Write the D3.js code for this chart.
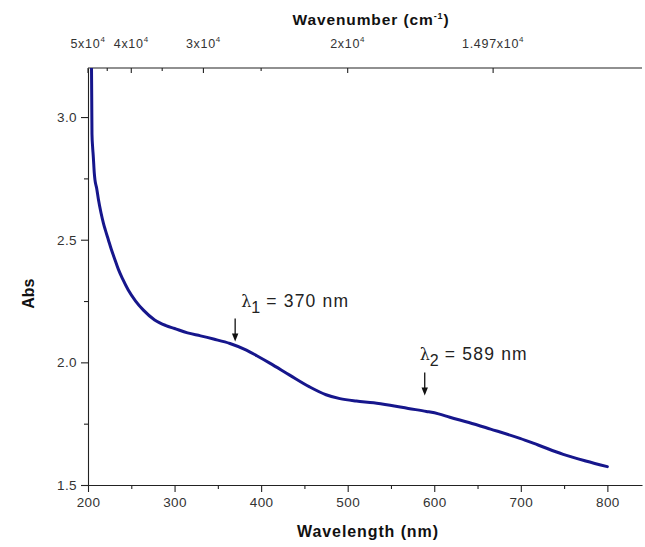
<!DOCTYPE html>
<html>
<head>
<meta charset="utf-8">
<script src="https://cdn.jsdelivr.net/npm/d3@7"></script>
<style>
  html, body { margin: 0; padding: 0; background: #fff; }
  svg { display: block; }
</style>
</head>
<body>
<svg id="chart" width="645" height="547"></svg>
<script>
// Absorption spectrum: wavelength (nm) against absorbance
const wavelengths = [203.6, 204.0, 204.3, 204.6, 205.3, 206.1, 207.3, 208.0, 210, 212, 215, 218, 220, 223.5,
  227, 230, 235, 240, 246.5, 255, 264, 277, 290, 300, 315, 330, 345, 364, 383, 395, 410, 433,
  456, 475, 491, 510, 530, 549, 570, 591, 605, 618, 640, 665, 699, 720, 749, 775, 800];
const absorbance = [3.40, 3.22, 3.08, 2.93, 2.88, 2.84, 2.77, 2.745, 2.71, 2.665, 2.61, 2.565, 2.54, 2.50,
  2.46, 2.43, 2.38, 2.34, 2.295, 2.25, 2.213, 2.173, 2.15, 2.138, 2.12, 2.108, 2.095, 2.077, 2.05, 2.027, 1.997, 1.948,
  1.90, 1.868, 1.852, 1.842, 1.835, 1.825, 1.812, 1.80, 1.79, 1.776, 1.755, 1.728, 1.69, 1.663, 1.625, 1.598, 1.575];

// Bottom axis ticks (nm)
const xMajorTicks = [200, 300, 400, 500, 600, 700, 800];
const xMinorTicks = [250, 350, 450, 550, 650, 750];
// Left axis ticks (Abs)
const yMajorTicks = [1.5, 2.0, 2.5, 3.0];
const yMinorTicks = [1.75, 2.25, 2.75];
// Top axis: wavenumber (cm^-1) ticks and their mantissas (x10^4)
const wnMajorTicks = [50000, 40000, 30000, 20000, 14970];
const wnMantissas = ["5", "4", "3", "2", "1.497"];
const wnMinorTicks = [45000, 35000, 25000];

// Band annotations
const bandWavelengths = [370, 589];
const bandSubscripts = ["1", "2"];
const bandArrowTipAbs = [2.085, 1.865];

const svg = d3.select("#chart");
const plotLeft = 88, plotRight = 642, plotTop = 68, plotBottom = 485;

const x = d3.scaleLinear().domain([200, 840]).range([plotLeft, plotRight]);
const y = d3.scaleLinear().domain([1.5, 3.2]).range([plotBottom, plotTop]);

const tickFont = "'Liberation Sans', Arial, sans-serif";
const tickColor = "#333";

// Clip for the spectrum
svg.append("defs").append("clipPath").attr("id", "plotClip")
  .append("rect").attr("x", plotLeft).attr("y", plotTop)
  .attr("width", plotRight - plotLeft).attr("height", plotBottom - plotTop);

// Bottom axis
svg.append("g").attr("transform", `translate(0,${plotBottom})`)
  .call(d3.axisBottom(x).tickValues(xMajorTicks).tickSize(7).tickSizeOuter(0).tickPadding(5));
svg.append("g").attr("transform", `translate(0,${plotBottom})`)
  .call(d3.axisBottom(x).tickValues(xMinorTicks).tickSize(4).tickSizeOuter(0).tickFormat(""))
  .select(".domain").remove();

// Left axis
svg.append("g").attr("transform", `translate(${plotLeft},0)`)
  .call(d3.axisLeft(y).tickValues(yMajorTicks).tickFormat(d3.format(".1f")).tickSize(7).tickSizeOuter(0).tickPadding(4));
svg.append("g").attr("transform", `translate(${plotLeft},0)`)
  .call(d3.axisLeft(y).tickValues(yMinorTicks).tickSize(4).tickFormat(""))
  .select(".domain").remove();

svg.selectAll(".tick text")
  .attr("font-family", tickFont).attr("font-size", 13.5).attr("fill", tickColor)
  .attr("letter-spacing", 0.4);
svg.selectAll(".domain, .tick line").attr("stroke", "#222").attr("stroke-width", 1.1);

// Top frame and wavenumber axis (ticks point inward)
svg.append("line").attr("x1", plotLeft).attr("x2", plotRight).attr("y1", plotTop).attr("y2", plotTop)
  .attr("stroke", "#222").attr("stroke-width", 1.1);

const wnToX = wn => x(1e7 / wn);
svg.append("g").selectAll("line").data(wnMajorTicks).join("line")
  .attr("x1", d => wnToX(d)).attr("x2", d => wnToX(d))
  .attr("y1", plotTop).attr("y2", plotTop + 5).attr("stroke", "#222").attr("stroke-width", 1.1);
svg.append("g").selectAll("line").data(wnMinorTicks).join("line")
  .attr("x1", d => wnToX(d)).attr("x2", d => wnToX(d))
  .attr("y1", plotTop).attr("y2", plotTop + 3).attr("stroke", "#222").attr("stroke-width", 1.1);

const wnLabels = svg.append("g").selectAll("text").data(wnMajorTicks).join("text")
  .attr("x", d => wnToX(d)).attr("y", 48)
  .attr("text-anchor", "middle")
  .attr("font-family", tickFont).attr("font-size", 12.5).attr("fill", tickColor)
  .attr("letter-spacing", 0.7);
wnLabels.append("tspan").text((d, i) => wnMantissas[i] + "x10");
wnLabels.append("tspan").attr("dy", -6).attr("font-size", 8).text("4");

// Axis titles
svg.append("text").attr("x", 368).attr("y", 537).attr("text-anchor", "middle")
  .attr("font-family", tickFont).attr("font-weight", "bold").attr("font-size", 16)
  .attr("letter-spacing", 0.9).attr("fill", "#111").text("Wavelength (nm)");

svg.append("text").attr("transform", `translate(34,${y(2.28)}) rotate(-90)`).attr("text-anchor", "middle")
  .attr("font-family", tickFont).attr("font-weight", "bold").attr("font-size", 16)
  .attr("fill", "#111").text("Abs");

const topTitle = svg.append("text").attr("x", 371).attr("y", 25).attr("text-anchor", "middle")
  .attr("font-family", tickFont).attr("font-weight", "bold").attr("font-size", 15.5)
  .attr("letter-spacing", 0.9).attr("fill", "#111");
topTitle.append("tspan").text("Wavenumber (cm");
topTitle.append("tspan").attr("dy", -6).attr("font-size", 9).text("-1");
topTitle.append("tspan").attr("dy", 6).text(")");

// Spectrum
const spectrum = wavelengths.map((w, i) => ({ nm: w, abs: absorbance[i] }));
svg.append("path").datum(spectrum)
  .attr("clip-path", "url(#plotClip)")
  .attr("fill", "none").attr("stroke", "#16168c").attr("stroke-width", 3)
  .attr("stroke-linejoin", "round").attr("stroke-linecap", "round")
  .attr("d", d3.line().x(d => x(d.nm)).y(d => y(d.abs)).curve(d3.curveMonotoneX));

// Band arrows and labels
const labelDx = [6, -5];
bandWavelengths.forEach((w, i) => {
  const ax = x(w), tipY = y(bandArrowTipAbs[i]), topY = tipY - 23;
  const g = svg.append("g");
  g.append("line").attr("x1", ax).attr("x2", ax).attr("y1", topY).attr("y2", tipY - 6)
    .attr("stroke", "#111").attr("stroke-width", 1.3);
  g.append("path").attr("d", `M${ax - 3.2},${tipY - 8} L${ax + 3.2},${tipY - 8} L${ax},${tipY} Z`).attr("fill", "#111");
  const t = g.append("text").attr("x", ax + labelDx[i]).attr("y", topY - 12)
    .attr("font-family", tickFont).attr("font-size", 17.5).attr("fill", "#222");
  t.append("tspan").attr("font-family", "'DejaVu Serif', serif").attr("font-size", 16).text("λ");
  t.append("tspan").attr("dy", 6).attr("font-size", 16).text(bandSubscripts[i]);
  t.append("tspan").attr("dy", -6).attr("letter-spacing", 1.2).text(` = ${w} nm`);
});
</script>
</body>
</html>
